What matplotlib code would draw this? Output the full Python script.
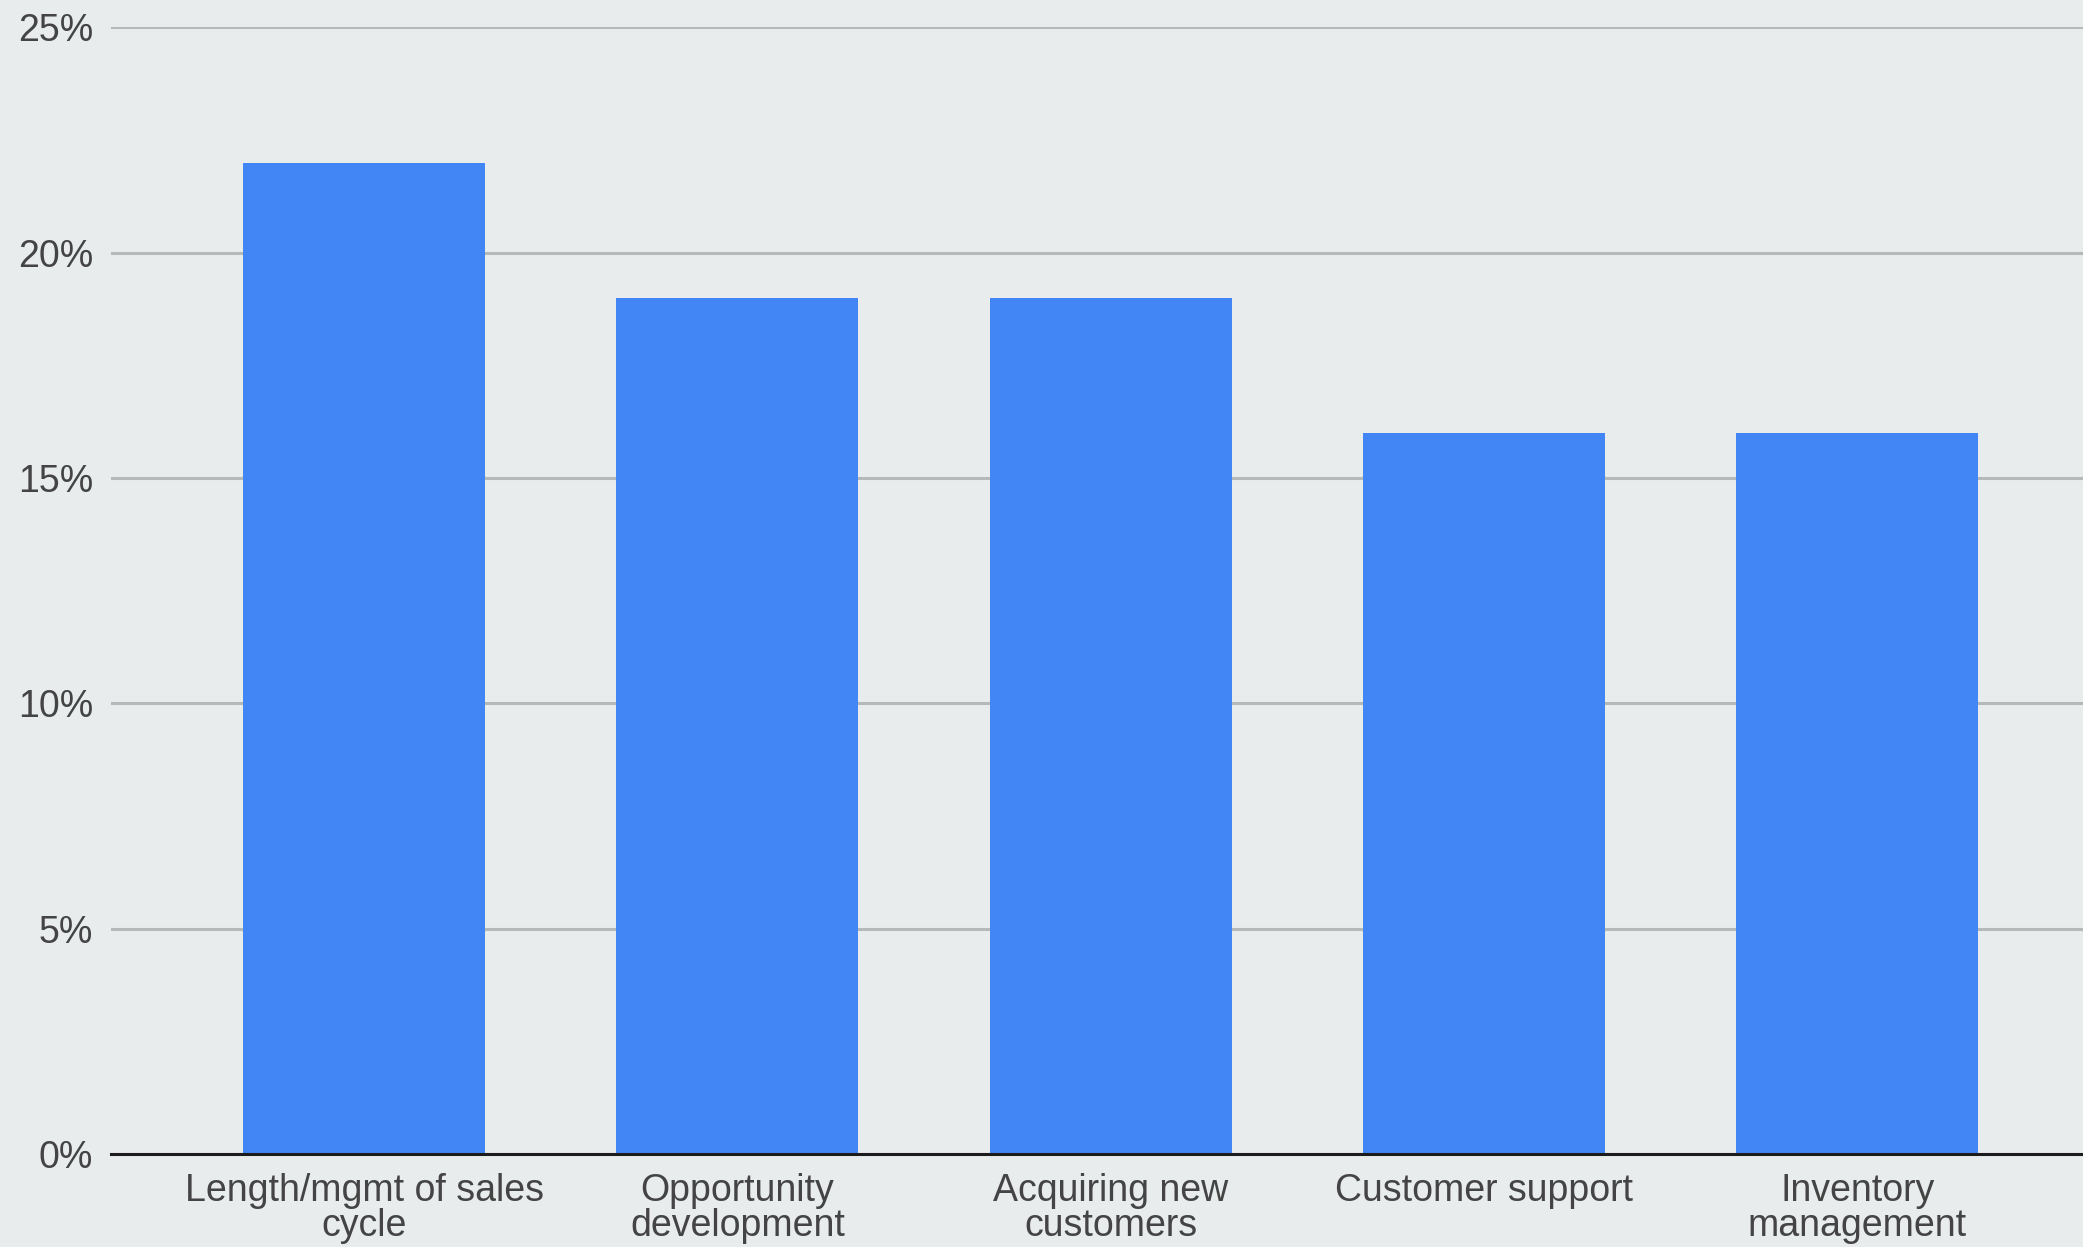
import matplotlib
matplotlib.use("Agg")
import matplotlib.pyplot as plt

categories = ["Length/mgmt of sales\ncycle", "Opportunity\ndevelopment",
              "Acquiring new\ncustomers", "Customer support", "Inventory\nmanagement"]
values = [22, 19, 19, 16, 16]
yticks = [0, 5, 10, 15, 20, 25]
ytick_labels = ["0%", "5%", "10%", "15%", "20%", "25%"]

W, H = 2083, 1247
bg = "#e8eced"
fig = plt.figure(figsize=(W / 100, H / 100), dpi=100, facecolor=bg)
left, right = 111 / W, 1.0
top, bottom = 1 - 27.3 / H, 1 - 1154 / H
ax = fig.add_axes([left, bottom, right - left, top - bottom], facecolor=bg)

x = list(range(len(categories)))
ax.bar(x, values, width=0.648, color="#4285f4", zorder=2)
ax.axhline(0, color="#1c1c1c", lw=2.2, zorder=3, clip_on=False)
ax.set_xlim(-0.678, len(categories) - 1 + 0.605)
ax.set_ylim(0, 25)

ax.set_yticks(yticks)
ax.set_yticklabels(ytick_labels)
ax.yaxis.grid(True, color="#b5b9ba", lw=2.2, zorder=1)
ax.set_axisbelow(True)
ax.set_xticks(x)
ax.set_xticklabels(categories, linespacing=0.95)

for s in ax.spines.values():
    s.set_visible(False)
ax.tick_params(axis="both", length=0, labelsize=27, labelcolor="#444444")
ax.tick_params(axis="y", pad=13)
ax.tick_params(axis="x", pad=14)
for lab in ax.get_xticklabels() + ax.get_yticklabels():
    lab.set_fontfamily("Liberation Sans")

fig.savefig("out.png", dpi=100, facecolor=bg)
